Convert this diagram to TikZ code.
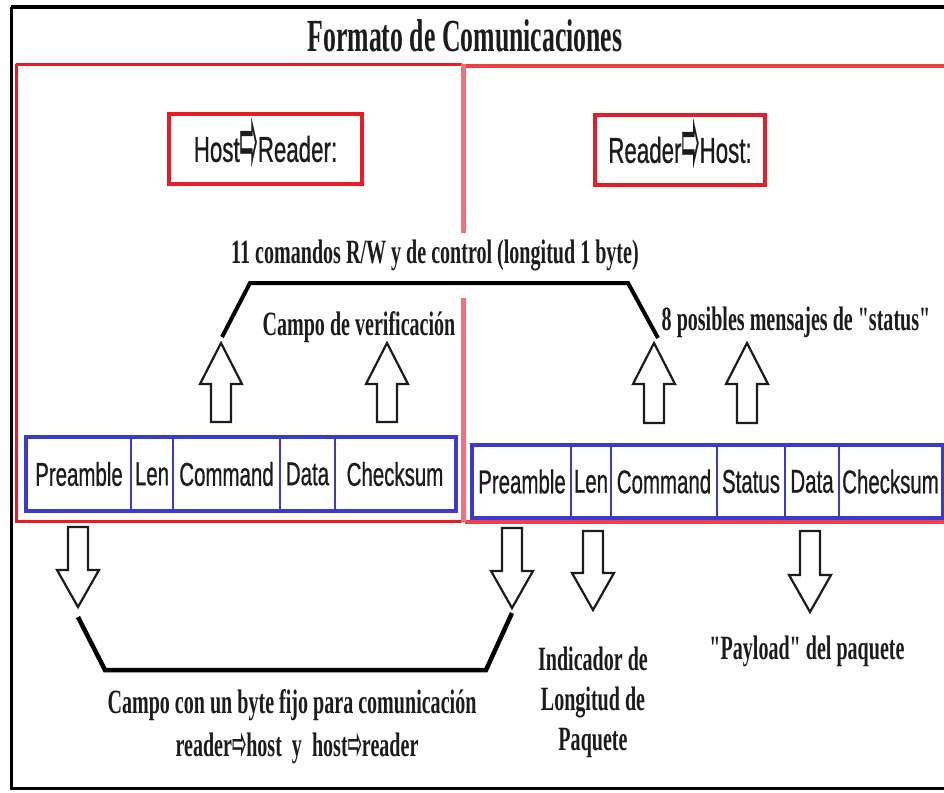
\documentclass[tikz,border=0pt]{standalone}
\usepackage{fontspec}
\setmainfont{Liberation Serif}
\newfontfamily\serb[FakeStretch=0.59]{Liberation Serif Bold}
\newfontfamily\titf[FakeStretch=0.56]{Liberation Serif Bold}
\newfontfamily\sanc[FakeStretch=0.62,FakeBold=0.6]{Liberation Sans}
\newfontfamily\arrf[FakeBold=0.6]{DejaVu Sans}
\definecolor{pred}{RGB}{232,28,38}
\definecolor{pred2}{RGB}{238,64,72}
\definecolor{pink}{RGB}{244,112,122}
\definecolor{pblue}{RGB}{58,58,205}
\definecolor{ink}{RGB}{28,28,28}
\newcommand{\harr}{{\arrf\smash{\raisebox{-0.3em}{\scalebox{0.6}[2.7]{⇨}}}}}
\newcommand{\sarr}{{\arrf\smash{\raisebox{-0.08em}{\scalebox{0.5}[1.35]{⇨}}}}}
\tikzset{
  titletxt/.style={font=\titf\fontsize{46}{50}\selectfont, text=ink, inner sep=0},
  sertxt/.style={font=\serb\fontsize{34}{34}\selectfont, text=ink, inner sep=0, align=center},
  dirbox/.style={draw=pred, line width=4pt, minimum height=70pt, inner sep=0, font=\sanc\fontsize{36}{38}\selectfont, text=ink},
  cell/.style={draw=pblue, line width=2.5pt, inner sep=0, font=\sanc\fontsize{33}{36}\selectfont, text=ink},
  blk/.style={draw=ink, line width=2.2pt, fill=white, line join=miter},
  brace/.style={draw=black, line width=4.5pt, line join=miter}
}
\newcommand{\blockup}[3]{% x, tip y, bottom y
  \draw[blk] (#1,#2) -- (#1+21,#2+41) -- (#1+10,#2+41) -- (#1+10,#3) -- (#1-10,#3) -- (#1-10,#2+41) -- (#1-21,#2+41) -- cycle;}
\newcommand{\blockdown}[3]{% x, top y, tip y
  \draw[blk] (#1,#3) -- (#1+21,#3-37) -- (#1+10,#3-37) -- (#1+10,#2) -- (#1-10,#2) -- (#1-10,#3-37) -- (#1-21,#3-37) -- cycle;}
\begin{document}
\begin{tikzpicture}[x=1pt,y=-1pt]
\useasboundingbox (0,0) rectangle (944,792);
\fill[white] (0,0) rectangle (944,792);
% outer frame
\draw[black, line width=3.5pt] (11,7) -- (960,7);
\draw[black, line width=3pt] (11,7) -- (11,788) -- (960,788);
% title
\node[titletxt] (title) at (465,36) {Formato de Comunicaciones};
% panels
\draw[pred, line width=3pt] (16,64) -- (462,64);
\draw[pred, line width=3pt] (16,64) -- (16,521) -- (462,521);
\draw[pred2, line width=4pt] (465,66) -- (960,66);
\draw[pred2, line width=4pt] (465,522) -- (960,522);
\draw[pink, line width=5.5pt] (463.5,64) -- (463.5,233);
\draw[pink, line width=5.5pt] (463.5,298) -- (463.5,522);
% direction boxes
\node[dirbox, minimum width=193pt] (hr) at (265.5,149) {Host\harr Reader:};
\node[dirbox, minimum width=170pt] (rh) at (680,150) {Reader\harr Host:};
% left packet
\node[cell, minimum width=104pt, minimum height=72pt] (lpre) at (79,474) {Preamble};
\node[cell, minimum width=42pt, minimum height=72pt] (llen) at (152,474) {Len};
\node[cell, minimum width=107pt, minimum height=72pt] (lcmd) at (226.5,474) {Command};
\node[cell, minimum width=55pt, minimum height=72pt] (ldat) at (307.5,474) {Data};
\node[cell, minimum width=120pt, minimum height=72pt] (lchk) at (395,474) {Checksum};
\draw[pblue, line width=3.5pt] (lpre.north west) rectangle (lchk.south east);
% right packet
\node[cell, minimum width=98pt, minimum height=71pt] (rpre) at (522,481.5) {Preamble};
\node[cell, minimum width=40pt, minimum height=71pt] (rlen) at (591,481.5) {Len};
\node[cell, minimum width=106pt, minimum height=71pt] (rcmd) at (664,481.5) {Command};
\node[cell, minimum width=68pt, minimum height=71pt] (rsta) at (751,481.5) {Status};
\node[cell, minimum width=54pt, minimum height=71pt] (rdat) at (812,481.5) {Data};
\node[cell, minimum width=103pt, minimum height=71pt] (rchk) at (890.5,481.5) {Checksum};
\draw[pblue, line width=3.5pt] (rpre.north west) rectangle (rchk.south east);
% up arrows
\blockup{221}{343}{422}
\blockup{387}{343}{422}
\blockup{654}{343}{423}
\blockup{747}{343}{423}
% top bracket
\coordinate (ta) at (222,337);
\coordinate (tb) at (250,283);
\coordinate (tc) at (628,283);
\coordinate (td) at (658,338);
\draw[brace, line width=4pt] (ta) -- (tb) -- (tc) -- (td);
\node[sertxt] (cmdtxt) at (435,255) {11 comandos R/W y de control (longitud 1 byte)};
\node[sertxt] (vertxt) at (359,327) {Campo de verificación};
\node[sertxt] (statxt) at (796,322) {8 posibles mensajes de "status"};
% down arrows
\blockdown{78}{527}{607}
\blockdown{512}{528}{608}
\blockdown{593}{531}{610}
\blockdown{810}{531}{612}
% bottom bracket
\coordinate (ba) at (78,617);
\coordinate (bb) at (105,670);
\coordinate (bc) at (486,670);
\coordinate (bd) at (512,613);
\draw[brace] (ba) -- (bb) -- (bc) -- (bd);
\node[sertxt] (fixtxt) at (292,705) {Campo con un byte fijo para comunicación};
\node[sertxt] (dirtxt) at (297,748) {reader\sarr host\ \ y\ \ host\sarr reader};
\node[sertxt] (lentxt) at (593,702) {Indicador de\\[6pt]Longitud de\\[6pt]Paquete};
\node[sertxt] (paytxt) at (807,651) {"Payload" del paquete};
\end{tikzpicture}
\end{document}
